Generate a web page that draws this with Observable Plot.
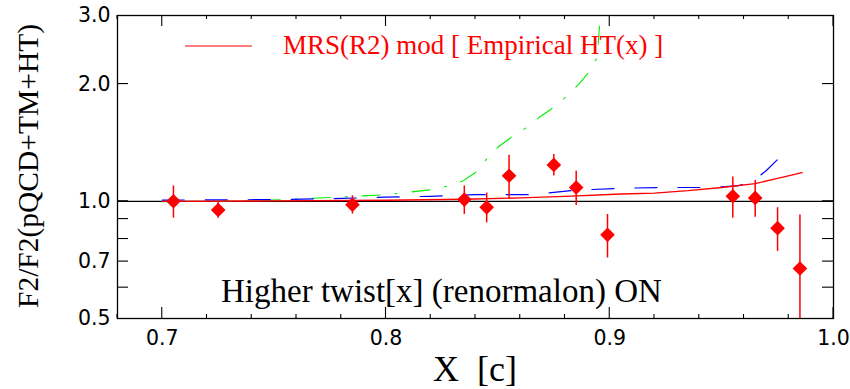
<!DOCTYPE html>
<html><head><meta charset="utf-8">
<script src="https://cdn.jsdelivr.net/npm/d3@7"></script>
<script src="https://cdn.jsdelivr.net/npm/@observablehq/plot@0.6"></script>
<style>body{margin:0;background:#fff} svg{display:block}</style>
</head><body><div id="chart"></div>
<script>
// Data points (diamonds with error bars)
const ptX   = [0.705, 0.725, 0.785, 0.835, 0.845, 0.855, 0.875, 0.885, 0.899, 0.955, 0.965, 0.975, 0.985];
const ptY   = [1.000, 0.950, 0.980, 1.010, 0.965, 1.163, 1.240, 1.085, 0.820, 1.030, 1.020, 0.853, 0.672];
const ptErr = [0.095, 0.045, 0.053, 0.085, 0.085, 0.150, 0.078, 0.110, 0.105, 0.125, 0.110, 0.110, 0.250];

// Red solid curve: MRS(R2) mod [ Empirical HT(x) ]
const redX = [0.700, 0.750, 0.800, 0.835, 0.860, 0.880, 0.905, 0.920, 0.935, 0.950, 0.965, 0.975, 0.986];
const redY = [1.000, 1.002, 1.006, 1.012, 1.020, 1.030, 1.044, 1.050, 1.065, 1.085, 1.110, 1.145, 1.184];

// Blue dashed curve
const blueX = [0.700, 0.720, 0.750, 0.780, 0.800, 0.820, 0.840, 0.865, 0.885, 0.905, 0.925, 0.945, 0.957, 0.962, 0.966, 0.970, 0.975];
const blueY = [1.007, 1.008, 1.010, 1.017, 1.025, 1.030, 1.040, 1.040, 1.068, 1.080, 1.085, 1.085, 1.095, 1.115, 1.150, 1.200, 1.280];

// Green dash-dot curve
const greenX = [0.700, 0.725, 0.755, 0.778, 0.800, 0.823, 0.834, 0.840, 0.845, 0.850, 0.856, 0.863, 0.8685, 0.875, 0.8806, 0.886, 0.8906, 0.8944, 0.8955, 0.8960];
const greenY = [0.998, 1.000, 1.010, 1.025, 1.040, 1.075, 1.125, 1.186, 1.284, 1.376, 1.460, 1.549, 1.643, 1.743, 1.857, 1.994, 2.144, 2.344, 2.860, 3.300];

// Axis ticks
const xMajor = [0.7, 0.8, 0.9, 1.0];
const xMinor = [0.68, 0.72, 0.74, 0.76, 0.78, 0.82, 0.84, 0.86, 0.88, 0.92, 0.94, 0.96, 0.98];
const yLabels = [0.5, 0.7, 1.0, 2.0, 3.0];
const yTicks = [0.6, 0.7, 0.8, 0.9, 1.0, 2.0];

const legendText = "MRS(R2) mod [ Empirical HT(x) ]";
const noteText = "Higher twist[x] (renormalon) ON";
const xTitle = "X  [c]";
const yTitle = "F2/F2(pQCD+TM+HT)";

const pts = ptX.map((x, i) => ({x, y: ptY[i], lo: ptY[i] - ptErr[i], hi: ptY[i] + ptErr[i]}));
const red = redX.map((x, i) => ({x, y: redY[i]}));
const blue = blueX.map((x, i) => ({x, y: blueY[i]}));
const green = greenX.map((x, i) => ({x, y: greenY[i]}));

const chart = Plot.plot({
  width: 850, height: 389,
  marginLeft: 117, marginRight: 17, marginTop: 15, marginBottom: 71,
  style: {background: "#fff", color: "#000", overflow: "visible"},
  x: {domain: [0.68, 1.0]},
  y: {type: "log", domain: [0.5, 3.0]},
  marks: [
    Plot.ruleY([1], {stroke: "#000", strokeWidth: 1.3}),
    Plot.line(green, {x: "x", y: "y", stroke: "#00ee00", strokeWidth: 1.1, strokeDasharray: "18,15,2,15", clip: true}),
    Plot.line(blue, {x: "x", y: "y", stroke: "#0000ff", strokeWidth: 1.2, strokeDasharray: "22,21", clip: true}),
    Plot.line(red, {x: "x", y: "y", stroke: "#ff0000", strokeWidth: 1.3, clip: true}),
    Plot.ruleX(pts, {x: "x", y1: "lo", y2: "hi", stroke: "#ff0000", strokeWidth: 1.5, clip: true}),
    Plot.dot(pts, {x: "x", y: "y", symbol: "diamond2", r: 6.6, fill: "#ff0000", stroke: "none"}),
    Plot.frame({stroke: "#000", strokeWidth: 1.3}),
    // tick labels
    Plot.axisX(xMajor, {anchor: "bottom", tickSize: 0, tickPadding: 12, tickFormat: ".1f", label: null}),
    Plot.axisY(yLabels, {anchor: "left", tickSize: 0, tickPadding: 7, tickFormat: ".1f", label: null})
  ]
});

const svg = d3.select(chart);
// tick label font (the only texts drawn by Plot here)
const tickFamily = "DejaVu Sans", tickSize = 20.5;
svg.selectAll("text")
  .attr("font-family", tickFamily).attr("font-size", tickSize)
  .style("font-family", tickFamily).style("font-size", tickSize + "px");

const sx = chart.scale("x"), sy = chart.scale("y");
const [x0, x1] = sx.range, [yB, yT] = sy.range;

// inward ticks drawn with Plot's scales
const tg = svg.append("g").attr("stroke", "#000").attr("stroke-width", 1.1);
function xt(vals, len) {
  for (const v of vals) {
    const px = sx.apply(v);
    tg.append("line").attr("x1", px).attr("x2", px).attr("y1", yB).attr("y2", yB - len);
    tg.append("line").attr("x1", px).attr("x2", px).attr("y1", yT).attr("y2", yT + len);
  }
}
xt(xMajor, 11);
xt(xMinor, 4);
for (const v of yTicks) {
  const py = sy.apply(v);
  tg.append("line").attr("x1", x0).attr("x2", x0 + 11).attr("y1", py).attr("y2", py);
  tg.append("line").attr("x1", x1).attr("x2", x1 - 11).attr("y1", py).attr("y2", py);
}

const serif = "Liberation Serif";
// y title
svg.append("text")
  .attr("transform", "translate(38,166) rotate(-90)")
  .attr("text-anchor", "middle")
  .attr("font-family", serif).attr("font-size", 29.5).attr("fill", "#000")
  .text(yTitle);
// x title
svg.append("text")
  .attr("x", 475).attr("y", 381)
  .attr("text-anchor", "middle").style("white-space", "pre")
  .attr("font-family", serif).attr("font-size", 36).attr("fill", "#000")
  .text(xTitle);
// in-plot note
svg.append("text")
  .attr("x", 221).attr("y", 302)
  .attr("text-anchor", "start")
  .attr("font-family", serif).attr("font-size", 33).attr("fill", "#000")
  .text(noteText);
// legend
svg.append("line")
  .attr("x1", 185).attr("x2", 252).attr("y1", 46).attr("y2", 46)
  .attr("stroke", "#ff0000").attr("stroke-width", 1.2);
svg.append("text")
  .attr("x", 283).attr("y", 54)
  .attr("text-anchor", "start")
  .style("white-space", "pre")
  .attr("font-family", serif).attr("font-size", 27).attr("fill", "#ff0000")
  .text(legendText);

document.getElementById("chart").appendChild(chart);
</script>
</body></html>
